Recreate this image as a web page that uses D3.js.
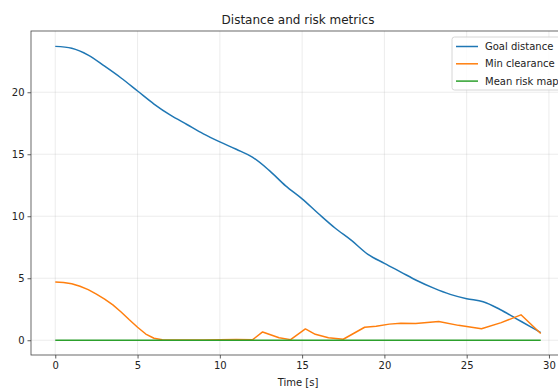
<!DOCTYPE html>
<html>
<head>
<meta charset="utf-8">
<script src="https://cdn.jsdelivr.net/npm/d3@7"></script>
<style>
  body { margin: 0; background: #fff; }
  svg { font-family: 'DejaVu Sans', sans-serif; }
</style>
</head>
<body>
<div id="container"></div>
<script>
const goalTime = [0, 1, 2, 3, 4, 5, 6, 7, 8, 9, 10, 11, 12, 13, 14, 15, 16, 17, 18, 19, 20, 21, 22, 23, 24, 25, 26, 27, 28, 29, 29.5];
const goalDistance = [23.7, 23.55, 23.0, 22.1, 21.15, 20.1, 19.05, 18.15, 17.4, 16.65, 16.0, 15.4, 14.75, 13.7, 12.45, 11.4, 10.2, 9.05, 8.05, 6.93, 6.2, 5.5, 4.8, 4.2, 3.7, 3.35, 3.1, 2.5, 1.75, 1.0, 0.62];

const clearTime = [0, 0.5, 1, 1.5, 2, 2.5, 3, 3.5, 4, 4.5, 5, 5.5, 6, 6.5, 7, 8, 9, 10, 11, 12, 12.6, 13.6, 14.3, 15.2, 15.8, 16.6, 17.5, 18.8, 19.5, 20.3, 21, 21.9, 23.3, 24.5, 25.9, 27.1, 28.3, 29.5];
const minClearance = [4.7, 4.66, 4.55, 4.35, 4.08, 3.72, 3.32, 2.85, 2.28, 1.65, 1.05, 0.5, 0.16, 0.04, 0.01, 0.02, 0.02, 0.03, 0.06, 0.05, 0.67, 0.2, 0.05, 0.91, 0.48, 0.2, 0.08, 1.05, 1.12, 1.3, 1.38, 1.36, 1.52, 1.2, 0.92, 1.42, 2.05, 0.55];

const riskTime = [0, 29.5];
const meanRisk = [0, 0];

const xTicks = [0, 5, 10, 15, 20, 25, 30];
const yTicks = [0, 5, 10, 15, 20];

const series = [
  { name: 'Goal distance', color: '#1f77b4', t: goalTime, v: goalDistance, curve: d3.curveCatmullRom.alpha(0.5) },
  { name: 'Min clearance', color: '#ff7f0e', t: clearTime, v: minClearance, curve: d3.curveLinear },
  { name: 'Mean risk map', color: '#2ca02c', t: riskTime, v: meanRisk, curve: d3.curveLinear },
];

const w = 558;
const h = 389;
const mLeft = 31, mRight = 565, mTop = 31, mBottom = 355;

const svg = d3.select('#container').append('svg')
  .attr('width', w)
  .attr('height', h);

const xScale = d3.scaleLinear().domain([-1.475, 30.975]).range([mLeft, mRight]);
const yScale = d3.scaleLinear().domain([-1.19, 24.94]).range([mBottom, mTop]);

// grid
svg.append('g').selectAll('line').data(xTicks).enter().append('line')
  .attr('x1', d => xScale(d)).attr('x2', d => xScale(d))
  .attr('y1', mTop).attr('y2', mBottom)
  .attr('stroke', '#b0b0b0').attr('stroke-opacity', 0.3).attr('stroke-width', 0.8);
svg.append('g').selectAll('line').data(yTicks).enter().append('line')
  .attr('x1', mLeft).attr('x2', mRight)
  .attr('y1', d => yScale(d)).attr('y2', d => yScale(d))
  .attr('stroke', '#b0b0b0').attr('stroke-opacity', 0.3).attr('stroke-width', 0.8);

svg.append('clipPath').attr('id', 'plot').append('rect')
  .attr('x', mLeft).attr('y', mTop).attr('width', mRight - mLeft).attr('height', mBottom - mTop);

series.forEach(s => {
  const pts = s.t.map((t, i) => [t, s.v[i]]);
  svg.append('path')
    .datum(pts)
    .attr('clip-path', 'url(#plot)')
    .attr('fill', 'none')
    .attr('stroke', s.color)
    .attr('stroke-width', 1.5)
    .attr('stroke-linejoin', 'round')
    .attr('d', d3.line().x(d => xScale(d[0])).y(d => yScale(d[1])).curve(s.curve));
});

// axes
const xAxis = d3.axisBottom(xScale).tickValues(xTicks).tickSize(3.5).tickPadding(3);
const gx = svg.append('g').attr('transform', `translate(0,${mBottom})`).call(xAxis);
const yAxis = d3.axisLeft(yScale).tickValues(yTicks).tickSize(3.5).tickPadding(3);
const gy = svg.append('g').attr('transform', `translate(${mLeft},0)`).call(yAxis);
[gx, gy].forEach(g => {
  g.select('.domain').remove();
  g.selectAll('line').attr('stroke', '#333').attr('stroke-width', 0.8);
  g.selectAll('text').attr('fill', '#222').style('font-size', '10px').style('font-family', 'DejaVu Sans');
});

svg.append('rect')
  .attr('x', mLeft).attr('y', mTop)
  .attr('width', mRight - mLeft).attr('height', mBottom - mTop)
  .attr('fill', 'none').attr('stroke', '#444').attr('stroke-width', 0.8);

svg.append('text')
  .attr('x', (mLeft + mRight) / 2).attr('y', 24)
  .attr('text-anchor', 'middle')
  .style('font-size', '12px').attr('fill', '#222')
  .text('Distance and risk metrics');

svg.append('text')
  .attr('x', (mLeft + mRight) / 2).attr('y', 386)
  .attr('text-anchor', 'middle')
  .style('font-size', '10px').attr('fill', '#222')
  .text('Time [s]');

// legend
const lg = svg.append('g').attr('transform', 'translate(452,37)');
lg.append('rect')
  .attr('width', 120).attr('height', 53).attr('rx', 2.5)
  .attr('fill', 'white').attr('fill-opacity', 0.8)
  .attr('stroke', '#cccccc').attr('stroke-width', 0.8);
const items = lg.selectAll('.legend').data(series).enter().append('g')
  .attr('class', 'legend')
  .attr('transform', (d, i) => `translate(0,${9.5 + i * 17.3})`);
items.append('line')
  .attr('x1', 4).attr('x2', 26)
  .attr('stroke', d => d.color).attr('stroke-width', 1.5);
items.append('text')
  .attr('x', 33).attr('dy', '.35em')
  .style('font-size', '10px').attr('fill', '#222')
  .text(d => d.name);
</script>
</body>
</html>
